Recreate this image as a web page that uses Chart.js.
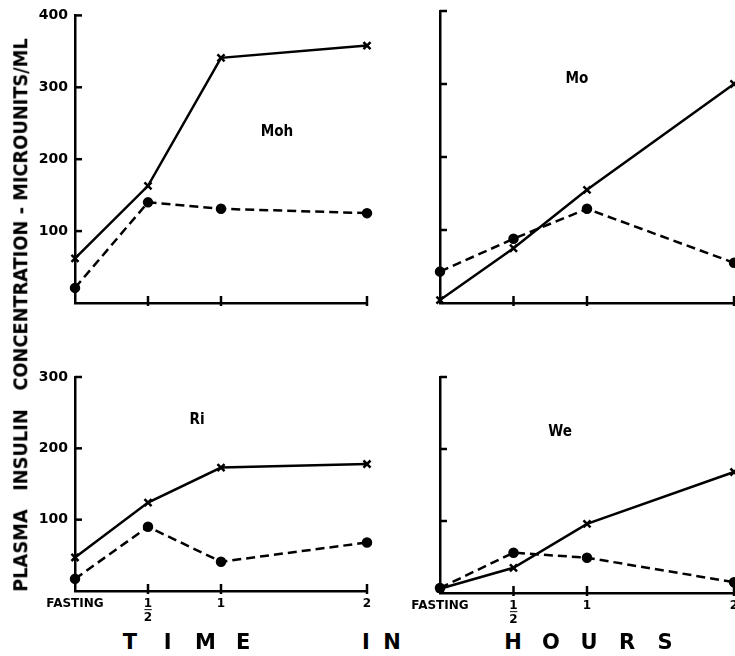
<!DOCTYPE html>
<html>
<head>
<meta charset="utf-8">
<script src="https://cdn.jsdelivr.net/npm/chart.js@4.4.0/dist/chart.umd.min.js"></script>
<style>
  html, body { margin: 0; padding: 0; background: #fff; width: 735px; height: 656px; overflow: hidden; }
  canvas { position: absolute; }
  .name { position: absolute; font: bold 16px "DejaVu Sans", sans-serif; transform: translate(-50%, -50%) scaleX(0.85); white-space: pre; }
  #ytitle { position: absolute; font: bold 20px "DejaVu Sans", sans-serif; white-space: pre; }
  .big { position: absolute; top: 642px; font: bold 21px "DejaVu Sans", sans-serif; transform: translate(-50%, -50%); }
</style>
</head>
<body>
<canvas id="cMoh" width="360" height="320"></canvas>
<canvas id="cMo" width="350" height="320"></canvas>
<canvas id="cRi" width="360" height="290"></canvas>
<canvas id="cWe" width="350" height="290"></canvas>
<div id="ytitle">PLASMA   INSULIN   CONCENTRATION - MICROUNITS/ML</div>

<script>
// --- Data ---
const timeHours = [0, 0.5, 1, 2];
const timeLabels = ['FASTING', ['1', '\u2500', '2'], '1', '2'];

const mohSolid = [62, 163, 341, 358];
const mohDashed = [21, 140, 131, 125];
const moSolid = [4, 75, 155, 300];
const moDashed = [43, 88, 129, 55];
const riSolid = [47, 124, 173, 178];
const riDashed = [17, 90, 41, 68];
const weSolid = [6, 35, 96, 168];
const weDashed = [7, 56, 49, 15];

const yTicksTop = [0, 100, 200, 300, 400];
const yTicksBottom = [0, 100, 200, 300];

// --- Plugin: short ticks pointing into the plot ---
const innerTicks = {
  id: 'innerTicks',
  afterDraw(chart) {
    const { ctx, chartArea, scales } = chart;
    ctx.save();
    ctx.strokeStyle = '#000';
    ctx.lineWidth = 2.5;
    scales.y.ticks.forEach(t => {
      if (t.value === 0) return;
      const y = scales.y.getPixelForValue(t.value);
      ctx.beginPath();
      ctx.moveTo(chartArea.left, y);
      ctx.lineTo(chartArea.left + 7, y);
      ctx.stroke();
    });
    scales.x.ticks.forEach(t => {
      if (t.value === 0) return;
      const x = scales.x.getPixelForValue(t.value);
      ctx.beginPath();
      ctx.moveTo(x, chartArea.bottom + 3);
      ctx.lineTo(x, chartArea.bottom - 7);
      ctx.stroke();
    });
    ctx.restore();
  }
};

// --- Panel ---
function makePanel(id, box, solid, dashed, yTicks, showY, showX) {
  const el = document.getElementById(id);
  el.style.left = box.left + 'px';
  el.style.top = box.top + 'px';
  const w = el.width, h = el.height;

  new Chart(el, {
    type: 'line',
    data: {
      datasets: [
        {
          data: timeHours.map((t, i) => ({ x: t, y: solid[i] })),
          borderColor: '#000',
          borderWidth: 2.5,
          pointStyle: 'crossRot',
          pointRadius: 5,
          pointBorderWidth: 2.5,
          pointBorderColor: '#000',
          clip: false
        },
        {
          data: timeHours.map((t, i) => ({ x: t, y: dashed[i] })),
          borderColor: '#000',
          borderWidth: 2.5,
          borderDash: [9, 5],
          pointStyle: 'circle',
          pointRadius: 4,
          pointBackgroundColor: '#000',
          pointBorderColor: '#000',
          clip: false
        }
      ]
    },
    options: {
      responsive: false,
      animation: false,
      events: [],
      layout: { padding: { left: 0, top: box.areaTop - box.top, right: box.left + w - box.areaRight, bottom: 0 } },
      plugins: { legend: { display: false }, tooltip: { enabled: false } },
      scales: {
        x: {
          type: 'linear',
          min: 0, max: 2,
          afterBuildTicks: s => { s.ticks = timeHours.map(v => ({ value: v })); },
          afterFit: s => { s.height = box.top + h - box.areaBottom; },
          grid: { display: false, drawTicks: false },
          border: { display: true, color: '#000', width: 2.5 },
          ticks: {
            display: showX,
            padding: 9,
            color: '#000',
            maxRotation: 0,
            font: { family: 'DejaVu Sans', size: 12, weight: 'bold', lineHeight: 0.6 },
            callback: v => timeLabels[timeHours.indexOf(v)]
          }
        },
        y: {
          min: 0, max: yTicks[yTicks.length - 1],
          afterBuildTicks: s => { s.ticks = yTicks.map(v => ({ value: v })); },
          afterFit: s => { s.width = box.areaLeft - box.left; },
          grid: { display: false, drawTicks: false },
          border: { display: true, color: '#000', width: 2.5 },
          ticks: {
            display: showY,
            padding: 7,
            color: '#000',
            font: { family: 'DejaVu Sans', size: 14, weight: 'bold' },
            callback: v => v === 0 ? '' : v
          }
        }
      }
    },
    plugins: [innerTicks]
  });
}

makePanel('cMoh', { left: 30, top: 0, areaLeft: 75, areaTop: 13, areaRight: 367, areaBottom: 303 }, mohSolid, mohDashed, yTicksTop, true, false);
makePanel('cMo', { left: 400, top: 0, areaLeft: 440, areaTop: 11, areaRight: 734, areaBottom: 303 }, moSolid, moDashed, yTicksTop, false, false);
makePanel('cRi', { left: 30, top: 340, areaLeft: 75, areaTop: 377, areaRight: 367, areaBottom: 591 }, riSolid, riDashed, yTicksBottom, true, true);
makePanel('cWe', { left: 400, top: 340, areaLeft: 440, areaTop: 377, areaRight: 734, areaBottom: 593 }, weSolid, weDashed, yTicksBottom, false, true);

// --- Panel names ---
[['Moh', 277, 130], ['Mo', 577, 77], ['Ri', 197, 418], ['We', 560, 430]].forEach(([t, x, y]) => {
  const d = document.createElement('div');
  d.className = 'name';
  d.textContent = t;
  d.style.left = x + 'px';
  d.style.top = y + 'px';
  document.body.appendChild(d);
});

// --- Axis titles ---
const yt = document.getElementById('ytitle');
const ytScale = 554 / yt.offsetWidth;
yt.style.left = (20 - yt.offsetWidth / 2) + 'px';
yt.style.top = (315 - yt.offsetHeight / 2) + 'px';
yt.style.transform = 'rotate(-90deg) scaleX(' + ytScale + ')';

[['TIME', 130, 37.7], ['IN', 366, 26], ['HOURS', 513, 38]].forEach(([word, x0, step]) => {
  word.split('').forEach((ch, i) => {
    const d = document.createElement('div');
    d.className = 'big';
    d.textContent = ch;
    d.style.left = (x0 + i * step) + 'px';
    document.body.appendChild(d);
  });
});
</script>
</body>
</html>
